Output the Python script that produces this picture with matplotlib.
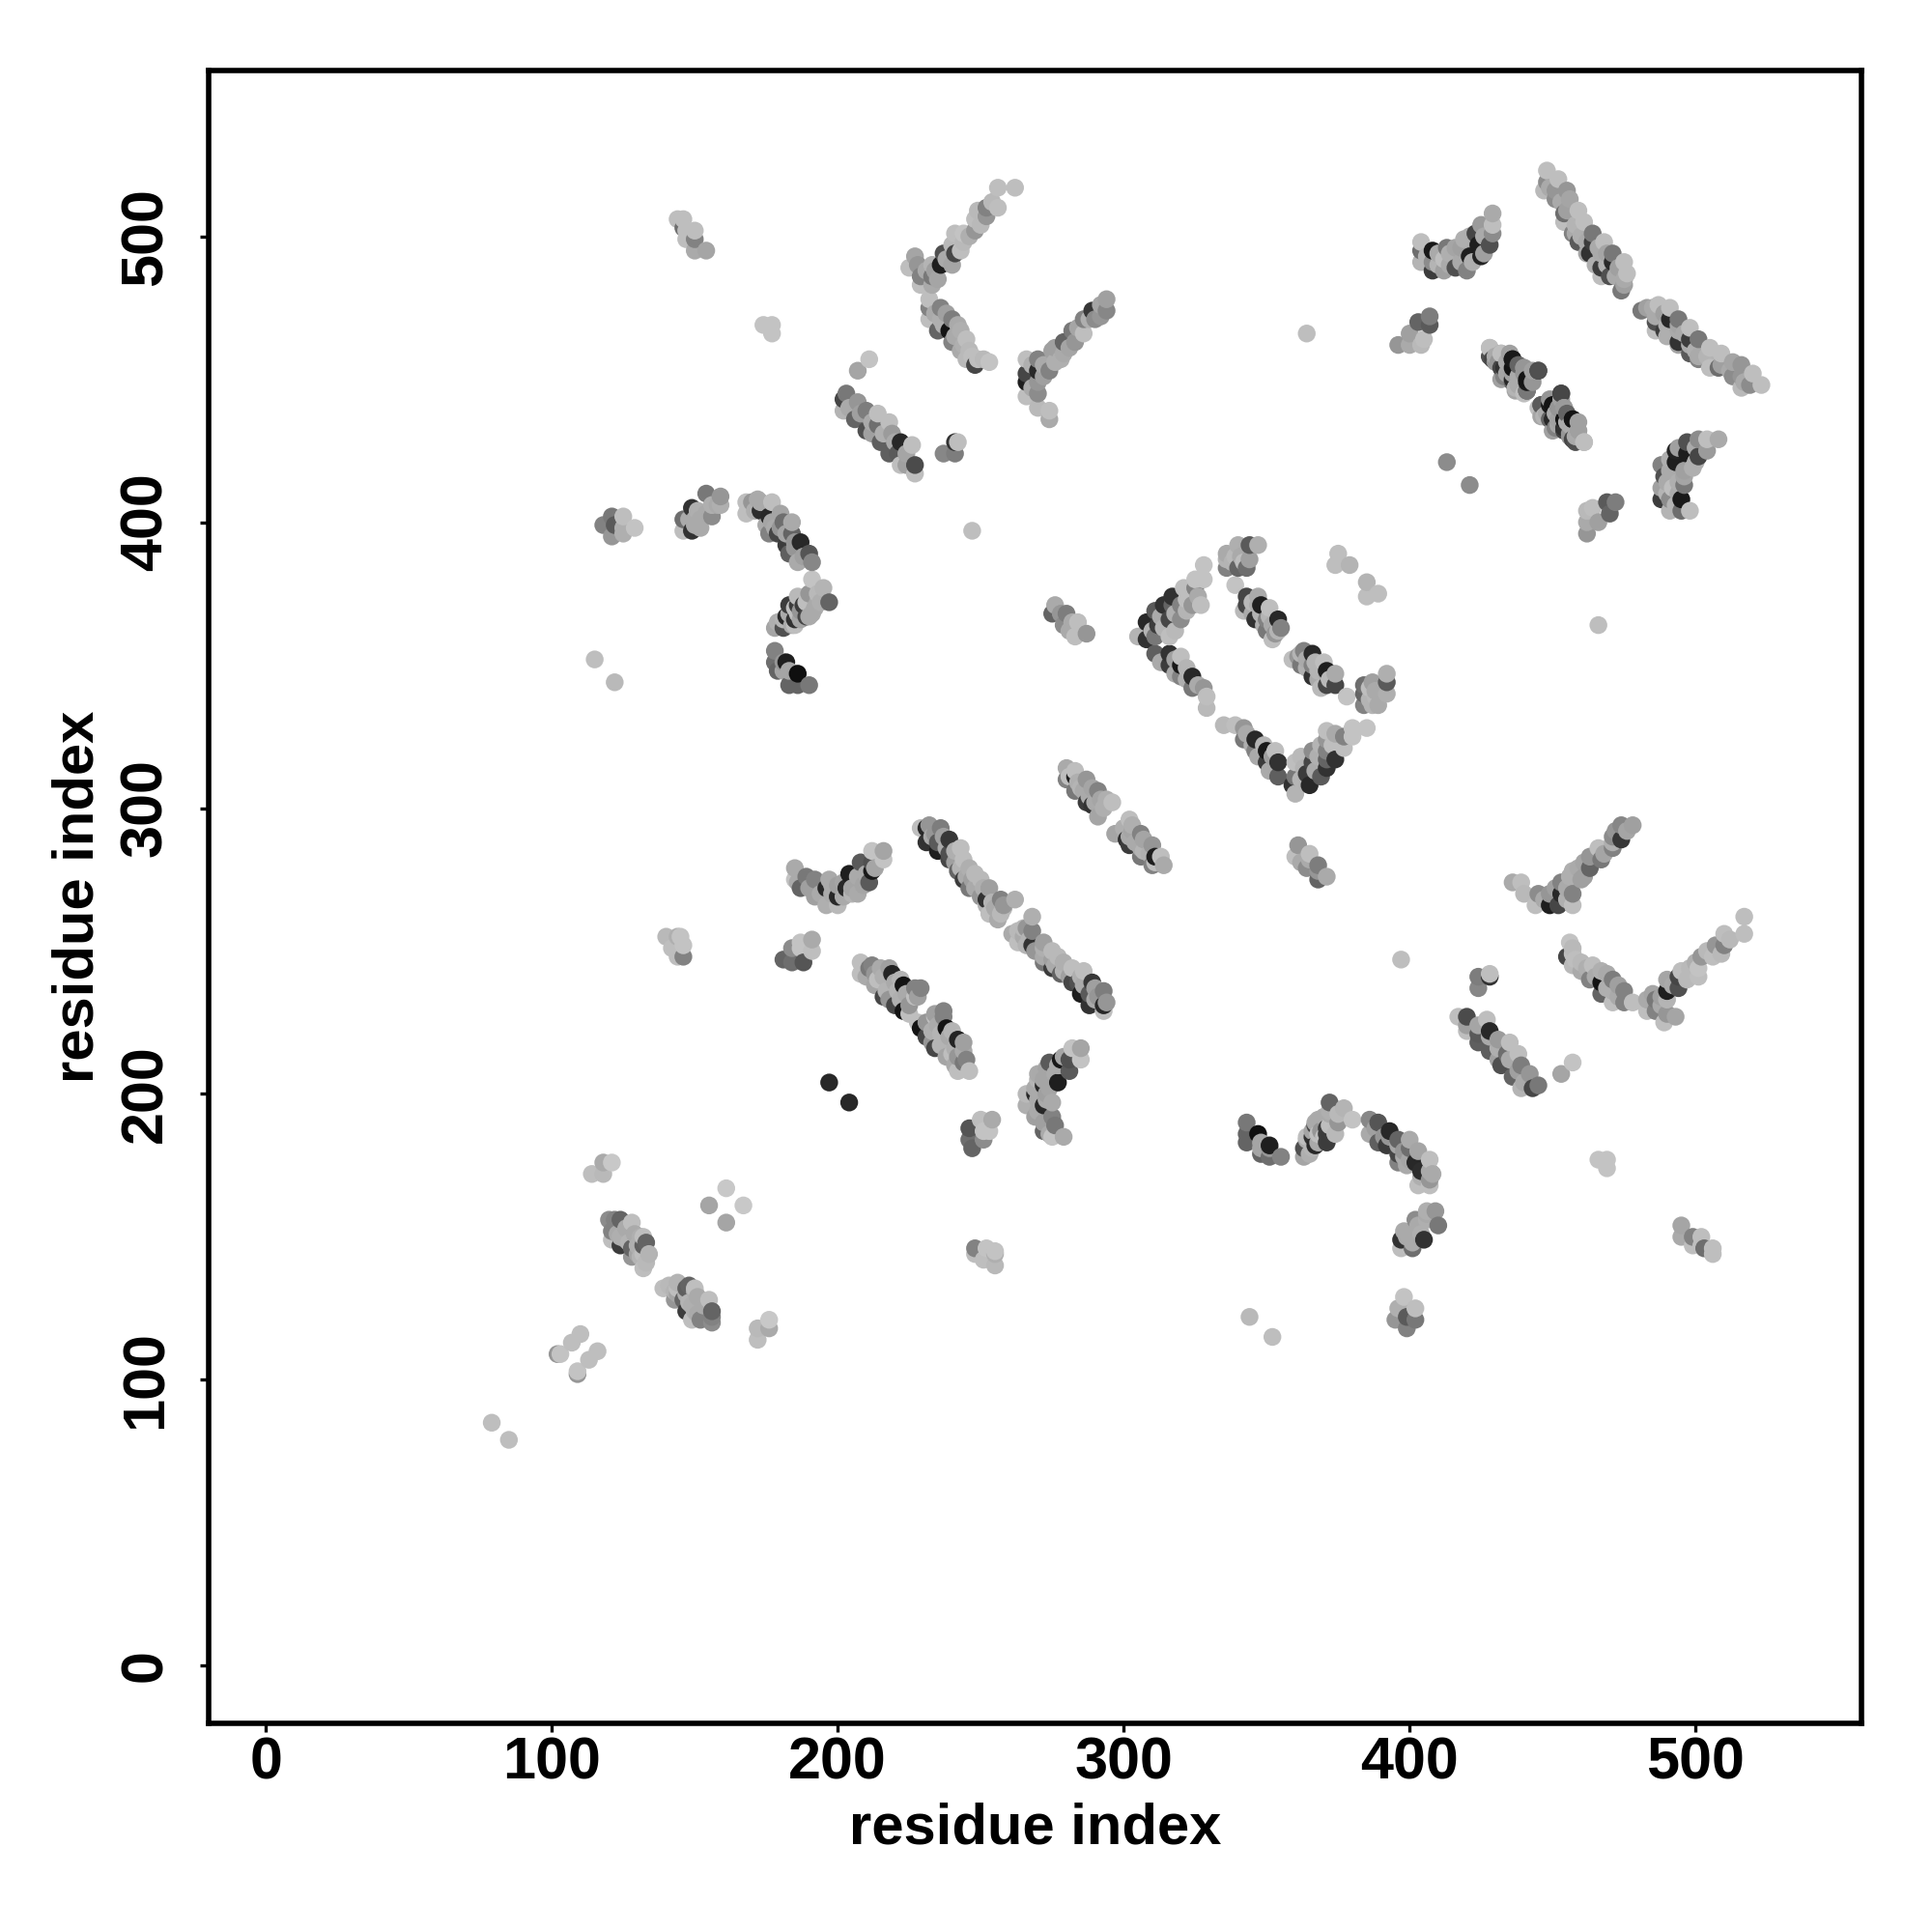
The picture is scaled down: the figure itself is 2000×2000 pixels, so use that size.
import numpy as np
import matplotlib
matplotlib.use("Agg")
import matplotlib.pyplot as plt

# Contacts above the diagonal: (residue i, residue j, grey level 0-255).
# The map is symmetric, so each contact is drawn at (i, j) and (j, i).
short_range = [(79,85,190),(102,109,150),(103,109,195),(107,113,190),(110,116,190),
    (114,172,190),(118,172,185),(118,176,170),(121,176,200),(155,161,165),(161,167,200),(197,204,40)]
cluster_120_150 = [(120,156,140),(122,156,130),(124,156,100),(128,155,190),(121,152,130),(123,151,170),
    (129,151,170),(132,150,190),(132,147,95),(121,149,190),(124,147,60),(128,146,100),(133,148,100),
    (132,144,190),(128,143,150),(131,143,180),(132,139,190),(133,141,185),
    (124,150,175),(126,149,175),(126,153,170),(130,147,175),(130,144,165),(134,144,180),(127,148,180),(131,150,175)]
cluster_145_505 = [(144,506,190),(146,506,190),(146,503,110),(147,502,190),(150,502,190),(150,499,130),
    (147,499,190),(150,495,170),(154,495,165)]
isolated = [(174,469,195),(177,469,195),(177,466,195),(211,457,195),(207,453,165),(247,397,190),
    (364,466,190),(413,421,140),(115,352,190),(122,344,185)]
band_200_440 = [(202,443,70),(203,445,120),(202,439,180),(207,442,150),(206,436,100),(210,439,125),
    (210,432,80),(214,438,190),(214,434,110),(218,435,190),(219,431,155),(215,428,95),(222,428,40),
    (218,424,95),(221,424,90),(222,420,190),(226,427,190),(227,420,75),(227,417,190),(237,424,135),
    (241,424,125),(241,428,50),(242,428,190),
    (204,440,170),(208,438,160),(212,435,170),(212,431,160),(216,431,175),(220,428,170),(224,424,165),(224,420,160)]
cluster_120_400 = [(118,399,130),(121,402,120),(121,395,150),(122,399,90),(125,396,175),(125,398,175),
    (125,402,190),(129,398,195)]
cluster_150_400 = [(146,401,110),(146,397,190),(149,397,50),(149,405,50),(152,398,170),(152,401,170),
    (154,410,120),(156,406,175),(156,402,140),(159,406,175),(159,409,150),
    (148,401,170),(150,401,170),(151,404,175),(150,399,170),(154,403,170),(158,406,170)]
curve_170_400 = [(168,403,190),(168,407,190),(170,407,150),(173,404,45),(173,407,170),(177,407,190),
    (176,402,40),(180,403,165),(176,396,130),(179,396,70),(181,400,110),(184,400,170),(184,396,100),
    (182,392,60),(187,393,40),(183,389,95),(186,386,170),(190,389,85),(191,386,135),(191,380,195),
    (195,377,180),(186,374,185),(190,375,150),(193,372,170),(197,372,100),
    (171,404,175),(175,399,170),(177,400,165),(178,398,170),(180,398,150),(182,396,165),(185,393,150),
    (185,391,150),(188,388,160),(172,408,170)]
curve_185_370 = [(178,363,165),(181,363,80),(182,367,40),(183,371,60),(185,364,190),(185,366,50),
    (185,370,190),(186,371,60),(186,368,190),(188,371,60),(189,367,70),(192,370,170),
    (183,368,170),(184,364,170),(187,366,165),(187,369,150),(191,368,170),(190,367,170),(194,372,175),
    (189,372,190),(193,375,185),(181,366,180),(179,365,175)]
cluster_180_350 = [(178,355,130),(178,351,110),(179,348,100),(182,351,30),(183,348,165),(183,343,100),
    (186,347,15),(186,343,100),(190,343,120),(181,348,165),(181,351,150)]
curve_185_275 = [(185,279,170),(185,275,195),(187,272,100),(189,276,120),(192,269,160),(192,275,130),
    (196,266,175),(196,272,40),(197,275,170),(200,266,185),(200,269,40),(200,273,160),(203,272,40),
    (204,277,30),(207,270,170),(207,276,170),(208,281,90),(211,274,90),(212,281,80),(212,278,25),
    (212,285,195),(216,282,195),(216,285,165),
    (186,274,170),(190,272,160),(194,270,170),(198,270,170),(198,273,170),(202,269,170),(202,274,165),
    (205,272,165),(205,270,180),(209,273,165),(210,277,170),(213,279,165)]
cluster_143_250 = [(140,255,185),(142,251,190),(144,255,175),(144,248,190),(145,255,195),(146,248,130),
    (146,252,195)]
cluster_185_250 = [(181,247,100),(184,246,110),(184,251,140),(187,251,195),(187,253,195),(188,246,85),
    (191,250,190),(191,254,170)]
band_210_240 = [(208,246,190),(208,242,190),(211,244,120),(213,238,165),(215,244,170),(216,234,70),
    (219,242,35),(220,239,170),(220,231,70),(223,238,20),(223,229,20),(227,234,190),(227,237,130),
    (229,237,130),
    (210,241,170),(213,242,150),(214,240,190),(216,241,175),(217,236,180),(218,233,150),(221,236,180),
    (222,233,175),(222,240,180),(224,235,170),(225,231,150),(225,228,190),(228,234,160),(212,245,130),(218,244,160)]
band_230_290 = [(229,293,190),(231,293,40),(232,294,150),(231,288,50),(235,285,30),(235,288,90),
    (236,293,125),(239,282,70),(239,284,80),(239,289,55),(242,278,100),(243,286,190),(244,275,60),
    (244,282,190),(246,272,120),(246,279,175),(247,275,160),(250,269,150),(250,275,185),(252,268,50),
    (253,263,190),(253,272,160),(256,261,170),(257,263,185),(257,268,130),(262,268,175),
    (233,290,170),(237,290,160),(234,291,150),(238,286,170),(241,285,175),(241,281,160),(243,279,180),
    (245,276,170),(248,272,170),(248,277,185),(251,272,175),(252,266,180),(254,267,180),(255,265,170),
    (258,266,150),(258,265,185)]
band_280_310 = [(280,314,170),(280,310,130),(283,313,190),(283,311,30),(283,306,120),(286,306,170),
    (287,302,60),(287,310,150),(289,301,50),(291,297,165),(291,306,130),(292,303,165),(296,302,190),
    (281,311,190),(284,309,175),(285,307,180),(288,304,170),(289,307,165),(290,302,170),(293,300,175),(294,303,175)]
band_278_365 = [(275,368,100),(276,371,170),(279,364,140),(280,368,125),(283,360,190),(284,365,190),
    (287,361,150),(278,368,150),(281,362,170),(282,365,170)]
band_305_370 = [(305,360,180),(308,359,50),(308,365,40),(311,360,120),(311,369,90),(312,364,60),
    (314,371,50),(316,360,190),(316,366,70),(317,371,100),(317,374,50),(320,366,140),(320,371,130),
    (321,377,190),(324,371,150),(325,377,130),(325,380,195),(328,380,195),(328,385,195),(336,384,130),
    (336,387,180),(339,378,195),(339,388,185),(340,384,100),(340,392,175),(343,384,110),(344,387,160),
    (344,392,90),(347,392,175),
    (310,362,180),(313,367,170),(314,363,180),(318,368,175),(318,362,185),(322,369,180),(322,373,190),
    (326,374,170),(327,371,190),(336,389,170),(338,386,180),(341,388,170),(342,386,190)]
band_342_360 = [(342,369,185),(343,371,70),(343,374,70),(346,366,50),(347,374,170),(347,371,170),
    (348,371,30),(350,362,120),(350,366,130),(351,370,190),(352,359,190),(354,366,40),(355,363,130),
    (345,372,185),(345,368,170),(348,368,180),(349,364,175),(351,367,180),(352,364,170),(354,362,180),(353,361,150)]
band_312_340 = [(311,354,95),(316,354,50),(316,350,60),(320,353,190),(320,350,25),(320,346,130),
    (324,346,40),(324,342,120),(328,342,150),(329,339,190),(329,335,185),
    (313,351,170),(318,352,160),(318,347,170),(322,349,180),(322,345,175),(326,343,170)]
corner_375_385 = [(374,385,190),(375,389,190),(379,385,180)]
cluster_405_495 = [(404,498,190),(404,495,110),(404,491,180),(408,495,25),(408,491,140),(408,488,60),
    (412,492,190),(413,496,120),(412,488,160),(416,496,165),(416,489,80),(419,499,175),(420,488,130),
    (421,493,30),(421,500,175),(423,501,70),(424,497,30),(425,493,35),(425,504,155),(428,497,80),
    (429,501,140),(429,504,190),(429,508,170),
    (406,493,180),(410,494,170),(410,490,180),(414,490,170),(414,494,175),(418,491,170),(418,496,160),
    (422,491,175),(426,494,160),(426,500,170)]
cluster_400_465 = [(396,462,150),(400,466,160),(400,462,170),(403,470,100),(404,462,185),(405,464,190),
    (407,469,90),(407,472,125)]
band_430_450 = [(428,458,80),(428,461,190),(432,450,160),(432,454,70),(432,459,160),(436,449,100),
    (436,454,20),(436,457,20),(437,447,180),(440,445,190),(440,454,155),(441,446,90),(441,450,20),
    (445,453,70),
    (430,456,150),(434,452,165),(434,456,170),(438,451,170),(438,455,100),(443,449,150),(443,453,160)]
band_450_435 = [(446,437,165),(446,441,120),(449,441,25),(450,436,40),(451,433,130),(453,445,80),
    (454,433,50),(454,440,150),(457,429,70),(457,436,25),(459,432,190),(461,428,190),
    (448,438,170),(452,436,160),(452,440,150),(455,435,170),(456,431,150),(458,430,170),(459,435,160)]
band_450_500 = [(447,516,185),(448,519,140),(448,523,190),(451,513,140),(451,516,150),(452,520,190),
    (454,505,190),(454,508,110),(455,516,150),(456,513,165),(457,501,130),(459,498,90),(459,509,190),
    (461,505,190),(462,498,170),(463,494,50),(464,498,60),(464,501,120),(467,489,60),(467,486,190),
    (467,494,170),(468,498,190),(470,486,80),(471,494,120),(471,491,40),(474,481,120),(475,483,160),
    (475,491,190),(476,487,190),
    (449,517,170),(453,512,170),(455,509,160),(458,504,180),(458,501,170),(460,500,175),(462,494,165),
    (465,490,175),(466,496,170),(469,490,175),(469,494,165),(472,486,170),(473,489,160),(475,485,170)]
v_230_500 = [(225,489,190),(227,493,165),(228,490,150),(229,483,190),(229,486,130),(232,478,190),
    (233,483,170),(233,486,120),(233,490,180),(236,490,30),(237,494,80),(240,490,165),(240,497,185),
    (241,494,70),(241,501,190),(244,498,185),(244,501,195),(248,502,150),(248,506,190),(249,509,185),
    (252,507,150),(252,510,130),(256,510,190),(256,517,190),(262,517,190),
    (231,488,170),(234,488,160),(238,492,170),(243,495,190),(246,500,175),(250,504,185),(254,512,185),(235,485,165)]
v_232_465 = [(232,471,190),(232,475,130),(235,467,100),(236,471,175),(236,475,130),(239,467,20),
    (240,463,130),(240,471,125),(243,460,170),(243,467,175),(245,457,185),(245,464,190),(246,460,185),
    (248,455,70),(249,457,190),(253,456,195),
    (234,473,170),(237,469,175),(238,473,160),(241,465,170),(242,469,170),(244,462,175),(247,458,190),(251,457,185)]
arm_270_460 = [(266,444,190),(266,449,30),(266,452,70),(266,457,190),(270,440,185),(270,445,140),
    (270,449,150),(270,453,40),(270,457,130),(274,436,170),(274,439,190),(274,453,130),(275,460,160),
    (278,457,175),(279,459,170),(279,463,100),(282,467,120),(283,463,150),(286,466,190),(286,471,130),
    (289,474,55),(290,471,140),(294,474,135),(294,478,160),
    (268,447,170),(268,455,175),(272,451,160),(272,455,170),(276,456,175),(276,461,160),(281,461,165),
    (284,468,165),(288,471,175),(292,476,165),(292,472,150)]

clusters = [short_range, cluster_120_150, cluster_145_505, isolated, band_200_440, cluster_120_400,
            cluster_150_400, curve_170_400, curve_185_370, cluster_180_350, curve_185_275, cluster_143_250,
            cluster_185_250, band_210_240, band_230_290, band_280_310, band_278_365, band_305_370,
            band_342_360, band_312_340, corner_375_385, cluster_405_495, cluster_400_465, band_430_450,
            band_450_435, band_450_500, v_230_500, v_232_465, arm_270_460]

tick_values = [0, 100, 200, 300, 400, 500]
axis_label = "residue index"

table = np.array([row for c in clusters for row in c], dtype=float)
i, j, g = table[:, 0], table[:, 1], table[:, 2]
x = np.concatenate([i, j])
y = np.concatenate([j, i])
shade = np.concatenate([g, g])
order = np.lexsort((y, x))

plt.rcParams["font.family"] = ["Liberation Sans", "DejaVu Sans"]
fig = plt.figure(figsize=(10, 10), dpi=200)
ax = fig.add_axes([216 / 2000, 1 - 1783.5 / 2000, (1927 - 216) / 2000, (1783.5 - 73) / 2000])
ax.scatter(x[order], y[order], s=44, c=shade[order] / 255.0, cmap="gray", vmin=0, vmax=1,
           linewidths=0, zorder=2)
ax.set_xlim(-20, 558)
ax.set_ylim(-20, 558)
ax.set_xticks(tick_values)
ax.set_yticks(tick_values)
ax.tick_params(axis="x", length=3.1, width=1.2, labelsize=22, pad=1.9)
ax.tick_params(axis="y", length=3.1, width=1.2, labelsize=22, pad=9.7)
for lab in ax.get_xticklabels():
    lab.set_fontweight("bold")
for lab in ax.get_yticklabels():
    lab.set_fontweight("bold")
    lab.set_rotation(90)
    lab.set_va("center")
for s in ax.spines.values():
    s.set_linewidth(2.0)
fig.text((216 + 1927) / 2 / 2000, 1 - 1893 / 2000, axis_label, ha="center", va="center",
         fontsize=21.5, fontweight="bold")
fig.text(81.5 / 2000, 1 - 928 / 2000, axis_label, ha="center", va="center", rotation=90,
         fontsize=21.5, fontweight="bold")
fig.savefig("out.png", dpi=200, facecolor="white")
